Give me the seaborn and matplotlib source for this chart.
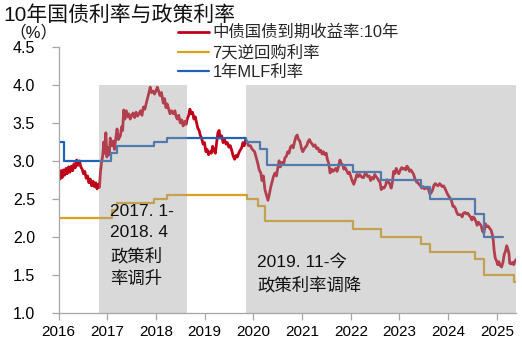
import matplotlib
matplotlib.use("Agg")
import matplotlib.pyplot as plt
import seaborn as sns
import pandas as pd

# ---------------- data ----------------
title = "10年国债利率与政策利率"
unit_label = "（%）"
series_names = ["中债国债到期收益率:10年", "7天逆回购利率", "1年MLF利率"]
year_ticks = [2016, 2017, 2018, 2019, 2020, 2021, 2022, 2023, 2024, 2025]
y_ticks = [1.0, 1.5, 2.0, 2.5, 3.0, 3.5, 4.0, 4.5]

yield_points = [
    ("2016-01-04", 2.82), ("2016-01-12", 2.76), ("2016-01-20", 2.87), ("2016-01-28", 2.78),
    ("2016-02-05", 2.88), ("2016-02-15", 2.81), ("2016-02-25", 2.90), ("2016-03-05", 2.83),
    ("2016-03-15", 2.92), ("2016-03-25", 2.85), ("2016-04-05", 2.93), ("2016-04-15", 2.87),
    ("2016-04-25", 2.96), ("2016-05-05", 2.91), ("2016-05-15", 3.01), ("2016-05-25", 2.94),
    ("2016-06-05", 3.00), ("2016-06-15", 2.92), ("2016-06-25", 2.89), ("2016-07-05", 2.83),
    ("2016-07-15", 2.86), ("2016-07-25", 2.77), ("2016-08-05", 2.80), ("2016-08-15", 2.71),
    ("2016-08-25", 2.76), ("2016-09-05", 2.67), ("2016-09-15", 2.73), ("2016-09-25", 2.66),
    ("2016-10-05", 2.71), ("2016-10-15", 2.63), ("2016-10-25", 2.69), ("2016-11-02", 2.65),
    ("2016-11-10", 2.86), ("2016-11-18", 2.98), ("2016-11-26", 3.06), ("2016-12-05", 3.25),
    ("2016-12-12", 3.10), ("2016-12-20", 3.37), ("2016-12-28", 3.05), ("2017-01-06", 3.17),
    ("2017-01-15", 3.08), ("2017-01-22", 3.30), ("2017-02-01", 3.20), ("2017-02-13", 3.26),
    ("2017-02-22", 3.15), ("2017-03-05", 3.30), ("2017-03-14", 3.42), ("2017-03-24", 3.28),
    ("2017-04-08", 3.33), ("2017-04-18", 3.45), ("2017-04-25", 3.40), ("2017-05-03", 3.67),
    ("2017-05-12", 3.55), ("2017-05-22", 3.66), ("2017-05-30", 3.58), ("2017-06-10", 3.62),
    ("2017-06-21", 3.55), ("2017-07-02", 3.60), ("2017-07-13", 3.63), ("2017-07-24", 3.57),
    ("2017-08-04", 3.64), ("2017-08-15", 3.59), ("2017-08-26", 3.62), ("2017-09-06", 3.66),
    ("2017-09-17", 3.60), ("2017-09-28", 3.71), ("2017-10-09", 3.68), ("2017-10-18", 3.75),
    ("2017-10-27", 3.81), ("2017-11-06", 3.88), ("2017-11-18", 3.97), ("2017-11-27", 3.90),
    ("2017-12-10", 3.92), ("2017-12-20", 3.88), ("2018-01-02", 3.93), ("2018-01-10", 3.97),
    ("2018-01-20", 3.92), ("2018-01-30", 3.86), ("2018-02-10", 3.90), ("2018-02-24", 3.76),
    ("2018-03-06", 3.82), ("2018-03-16", 3.70), ("2018-03-25", 3.75), ("2018-04-06", 3.68),
    ("2018-04-16", 3.62), ("2018-04-26", 3.66), ("2018-05-11", 3.62), ("2018-05-22", 3.66),
    ("2018-06-01", 3.58), ("2018-06-09", 3.55), ("2018-06-20", 3.60), ("2018-07-01", 3.50),
    ("2018-07-12", 3.54), ("2018-07-23", 3.46), ("2018-08-03", 3.52), ("2018-08-14", 3.48),
    ("2018-08-24", 3.56), ("2018-09-03", 3.60), ("2018-09-12", 3.68), ("2018-09-22", 3.62),
    ("2018-10-02", 3.64), ("2018-10-12", 3.55), ("2018-10-22", 3.58), ("2018-11-01", 3.50),
    ("2018-11-10", 3.43), ("2018-11-20", 3.40), ("2018-11-28", 3.34), ("2018-12-08", 3.30),
    ("2018-12-20", 3.22), ("2018-12-30", 3.24), ("2019-01-10", 3.12), ("2019-01-19", 3.15),
    ("2019-01-30", 3.08), ("2019-02-10", 3.12), ("2019-02-20", 3.10), ("2019-03-01", 3.19),
    ("2019-03-12", 3.13), ("2019-03-22", 3.10), ("2019-04-01", 3.25), ("2019-04-10", 3.37),
    ("2019-04-19", 3.40), ("2019-04-27", 3.30), ("2019-05-08", 3.33), ("2019-05-19", 3.24),
    ("2019-05-30", 3.28), ("2019-06-10", 3.22), ("2019-06-20", 3.24), ("2019-07-01", 3.18),
    ("2019-07-12", 3.20), ("2019-07-22", 3.14), ("2019-08-03", 3.06), ("2019-08-14", 3.02),
    ("2019-08-24", 3.07), ("2019-09-03", 3.05), ("2019-09-13", 3.10), ("2019-09-24", 3.14),
    ("2019-10-05", 3.17), ("2019-10-15", 3.24), ("2019-10-25", 3.20), ("2019-11-05", 3.28),
    ("2019-11-14", 3.25), ("2019-11-25", 3.20), ("2019-12-10", 3.20), ("2019-12-20", 3.16),
    ("2019-12-31", 3.14), ("2020-01-10", 3.12), ("2020-01-20", 3.06), ("2020-02-04", 2.96),
    ("2020-02-14", 2.88), ("2020-02-26", 2.84), ("2020-03-06", 2.74), ("2020-03-16", 2.80),
    ("2020-03-28", 2.62), ("2020-04-08", 2.55), ("2020-04-20", 2.48), ("2020-04-30", 2.56),
    ("2020-05-10", 2.65), ("2020-05-20", 2.72), ("2020-06-01", 2.80), ("2020-06-12", 2.84),
    ("2020-06-22", 2.80), ("2020-07-02", 2.90), ("2020-07-12", 3.00), ("2020-07-22", 2.92),
    ("2020-08-03", 2.98), ("2020-08-14", 2.95), ("2020-08-25", 3.04), ("2020-09-05", 3.06),
    ("2020-09-15", 3.12), ("2020-09-25", 3.10), ("2020-10-05", 3.18), ("2020-10-15", 3.20),
    ("2020-10-26", 3.17), ("2020-11-05", 3.25), ("2020-11-16", 3.32), ("2020-11-25", 3.34),
    ("2020-12-05", 3.28), ("2020-12-15", 3.26), ("2020-12-28", 3.16), ("2021-01-06", 3.12),
    ("2021-01-15", 3.15), ("2021-01-26", 3.18), ("2021-02-05", 3.20), ("2021-02-14", 3.25),
    ("2021-02-25", 3.28), ("2021-03-08", 3.24), ("2021-03-18", 3.22), ("2021-03-28", 3.19),
    ("2021-04-08", 3.21), ("2021-04-20", 3.16), ("2021-04-30", 3.17), ("2021-05-10", 3.12),
    ("2021-05-20", 3.14), ("2021-05-31", 3.09), ("2021-06-10", 3.12), ("2021-06-21", 3.08),
    ("2021-07-01", 3.10), ("2021-07-09", 3.02), ("2021-07-19", 2.97), ("2021-07-30", 2.84),
    ("2021-08-10", 2.89), ("2021-08-20", 2.86), ("2021-08-31", 2.88), ("2021-09-10", 2.90),
    ("2021-09-20", 2.86), ("2021-09-30", 2.92), ("2021-10-12", 3.01), ("2021-10-22", 2.96),
    ("2021-11-01", 2.95), ("2021-11-10", 2.89), ("2021-11-20", 2.91), ("2021-12-01", 2.87),
    ("2021-12-12", 2.83), ("2021-12-22", 2.85), ("2022-01-04", 2.78), ("2022-01-13", 2.73),
    ("2022-01-24", 2.69), ("2022-02-06", 2.76), ("2022-02-16", 2.82), ("2022-02-26", 2.79),
    ("2022-03-08", 2.82), ("2022-03-18", 2.80), ("2022-03-28", 2.78), ("2022-04-08", 2.78),
    ("2022-04-20", 2.84), ("2022-04-30", 2.82), ("2022-05-10", 2.79), ("2022-05-20", 2.80),
    ("2022-05-30", 2.74), ("2022-06-10", 2.78), ("2022-06-20", 2.76), ("2022-06-30", 2.82),
    ("2022-07-10", 2.79), ("2022-07-20", 2.77), ("2022-07-30", 2.74), ("2022-08-08", 2.72),
    ("2022-08-18", 2.62), ("2022-08-29", 2.65), ("2022-09-08", 2.64), ("2022-09-20", 2.68),
    ("2022-09-30", 2.75), ("2022-10-10", 2.72), ("2022-10-20", 2.70), ("2022-10-31", 2.64),
    ("2022-11-10", 2.72), ("2022-11-18", 2.86), ("2022-11-28", 2.83), ("2022-12-08", 2.90),
    ("2022-12-16", 2.86), ("2022-12-28", 2.83), ("2023-01-08", 2.88), ("2023-01-18", 2.91),
    ("2023-01-30", 2.89), ("2023-02-08", 2.90), ("2023-02-18", 2.88), ("2023-02-26", 2.93),
    ("2023-03-08", 2.91), ("2023-03-18", 2.86), ("2023-03-28", 2.88), ("2023-04-08", 2.85),
    ("2023-04-18", 2.82), ("2023-04-28", 2.76), ("2023-05-10", 2.72), ("2023-05-20", 2.71),
    ("2023-05-30", 2.69), ("2023-06-08", 2.67), ("2023-06-18", 2.64), ("2023-06-28", 2.66),
    ("2023-07-08", 2.63), ("2023-07-18", 2.65), ("2023-07-28", 2.64), ("2023-08-08", 2.62),
    ("2023-08-18", 2.56), ("2023-08-28", 2.58), ("2023-09-08", 2.62), ("2023-09-18", 2.68),
    ("2023-09-28", 2.70), ("2023-10-08", 2.68), ("2023-10-18", 2.67), ("2023-10-30", 2.70),
    ("2023-11-08", 2.68), ("2023-11-18", 2.66), ("2023-11-28", 2.67), ("2023-12-08", 2.64),
    ("2023-12-18", 2.60), ("2023-12-28", 2.56), ("2024-01-08", 2.53), ("2024-01-18", 2.50),
    ("2024-01-28", 2.47), ("2024-02-06", 2.40), ("2024-02-16", 2.40), ("2024-02-26", 2.37),
    ("2024-03-06", 2.32), ("2024-03-16", 2.29), ("2024-03-26", 2.29), ("2024-04-06", 2.29),
    ("2024-04-16", 2.26), ("2024-04-26", 2.31), ("2024-05-08", 2.32), ("2024-05-18", 2.30),
    ("2024-05-28", 2.31), ("2024-06-08", 2.28), ("2024-06-18", 2.26), ("2024-06-28", 2.22),
    ("2024-07-08", 2.26), ("2024-07-18", 2.24), ("2024-07-28", 2.20), ("2024-08-06", 2.15),
    ("2024-08-16", 2.19), ("2024-08-26", 2.17), ("2024-09-06", 2.14), ("2024-09-16", 2.07),
    ("2024-09-26", 2.05), ("2024-10-08", 2.17), ("2024-10-18", 2.13), ("2024-10-28", 2.14),
    ("2024-11-08", 2.11), ("2024-11-18", 2.09), ("2024-11-28", 2.03), ("2024-12-05", 1.96),
    ("2024-12-12", 1.82), ("2024-12-20", 1.72), ("2024-12-30", 1.68), ("2025-01-08", 1.63),
    ("2025-01-16", 1.67), ("2025-01-26", 1.62), ("2025-02-06", 1.60), ("2025-02-16", 1.66),
    ("2025-02-26", 1.77), ("2025-03-06", 1.80), ("2025-03-16", 1.88), ("2025-03-24", 1.84),
    ("2025-04-02", 1.78), ("2025-04-08", 1.65), ("2025-04-18", 1.64), ("2025-04-28", 1.66),
    ("2025-05-08", 1.63), ("2025-05-18", 1.68), ("2025-05-27", 1.70),
]
yield_dates = [d for d, _ in yield_points]
yield_values = [v for _, v in yield_points]

repo_dates = ["2016-01-01", "2017-02-03", "2017-03-16", "2017-12-14", "2018-03-22",
              "2019-11-18", "2020-02-03", "2020-03-30", "2022-01-17", "2022-08-15",
              "2023-06-13", "2023-08-15", "2024-07-22", "2024-09-27", "2025-05-08", "2025-05-27"]
repo_values = [2.25, 2.35, 2.45, 2.50, 2.55, 2.50, 2.40, 2.20, 2.10, 2.00,
               1.90, 1.80, 1.70, 1.50, 1.40, 1.40]

mlf_dates = ["2016-01-01", "2016-02-10", "2017-01-24", "2017-03-16", "2017-12-14",
             "2018-03-22", "2019-11-05", "2020-02-17", "2020-04-15", "2022-01-17",
             "2022-08-15", "2023-06-15", "2023-08-15", "2024-07-25", "2024-09-25", "2025-02-20"]
mlf_values = [3.25, 3.00, 3.10, 3.20, 3.25, 3.30, 3.25, 3.15, 2.95, 2.85,
              2.75, 2.65, 2.50, 2.30, 2.00, 2.00]

shade_periods = [("2016-11-01", "2018-08-18"), ("2019-11-05", "2025-05-27")]
shade_top = 4.0
annotations = ["2017. 1-\n2018. 4\n政策利\n率调升", "2019. 11-今\n政策利率调降"]

# ---------------- plotting ----------------
sns.set_theme(style="white")
plt.rcParams["font.family"] = ["Liberation Sans", "Noto Sans CJK SC", "DejaVu Sans"]

yield_df = pd.DataFrame({"date": pd.to_datetime(yield_dates), "value": yield_values})
repo_df = pd.DataFrame({"date": pd.to_datetime(repo_dates), "value": repo_values})
mlf_df = pd.DataFrame({"date": pd.to_datetime(mlf_dates), "value": mlf_values})

fig = plt.figure(figsize=(5.22, 3.38), dpi=100)
ax = fig.add_axes([0.1124, 0.0754, 0.8766, 0.7855])

red = "#c00018"
gold = "#d9a21b"
blue = "#2062b4"

sns.lineplot(data=yield_df, x="date", y="value", ax=ax, color=red, lw=2.0,
             label=series_names[0])
sns.lineplot(data=repo_df, x="date", y="value", ax=ax, color=gold, lw=1.6,
             drawstyle="steps-post", label=series_names[1])
sns.lineplot(data=mlf_df, x="date", y="value", ax=ax, color=blue, lw=1.6,
             drawstyle="steps-post", label=series_names[2])
for ln in ax.lines:
    ln.set_zorder(2)

ymin, ymax = 1.0, 4.5
for s, e in shade_periods:
    span = ax.axvspan(pd.Timestamp(s), pd.Timestamp(e), ymin=0,
                      ymax=(shade_top - ymin) / (ymax - ymin),
                      facecolor="#a0a0a0", alpha=0.4, lw=0)
    span.set_zorder(3)

ax.set_xlim(pd.Timestamp("2016-01-01"), pd.Timestamp("2025-05-27"))
ax.set_ylim(ymin, ymax)
ax.set_xticks([pd.Timestamp(f"{y}-01-01") for y in year_ticks])
ax.set_xticklabels([str(y) for y in year_ticks])
ax.set_yticks(y_ticks)
ax.set_yticklabels([f"{v:.1f}" for v in y_ticks])
ax.set_xlabel("")
ax.set_ylabel("")

for side in ["top", "right"]:
    ax.spines[side].set_visible(False)
for side in ["left", "bottom"]:
    ax.spines[side].set_color("#a6a6a6")
    ax.spines[side].set_linewidth(0.9)
ax.tick_params(axis="y", which="both", left=True, length=5, width=0.9,
               color="#a6a6a6", pad=12, labelsize=11.5, labelcolor="#000000")
ax.tick_params(axis="x", which="both", bottom=True, length=5, width=0.9,
               color="#a6a6a6", pad=4, labelsize=11, labelcolor="#000000")

ax.text(0.112, 0.41, annotations[0], transform=ax.transAxes, ha="left", va="top",
        fontsize=12.5, linespacing=1.55, color="#111111", zorder=4)
ax.text(0.434, 0.222, annotations[1], transform=ax.transAxes, ha="left", va="top",
        fontsize=12.5, linespacing=1.55, color="#111111", zorder=4)

leg = ax.legend(loc="upper left", bbox_to_anchor=(178 / 522, 1 - 25 / 338),
                bbox_transform=fig.transFigure, frameon=False, fontsize=11.8,
                handlelength=1.9, handletextpad=0.2, labelspacing=0.28,
                borderpad=0, borderaxespad=0)

fig.text(3 / 522, 1 - 5 / 338, title, ha="left", va="top", fontsize=15, color="#111111")
fig.text(9 / 522, 1 - 32 / 338, unit_label, ha="left", va="center", fontsize=12,
         color="#111111")

fig.savefig("out.png", dpi=100)
